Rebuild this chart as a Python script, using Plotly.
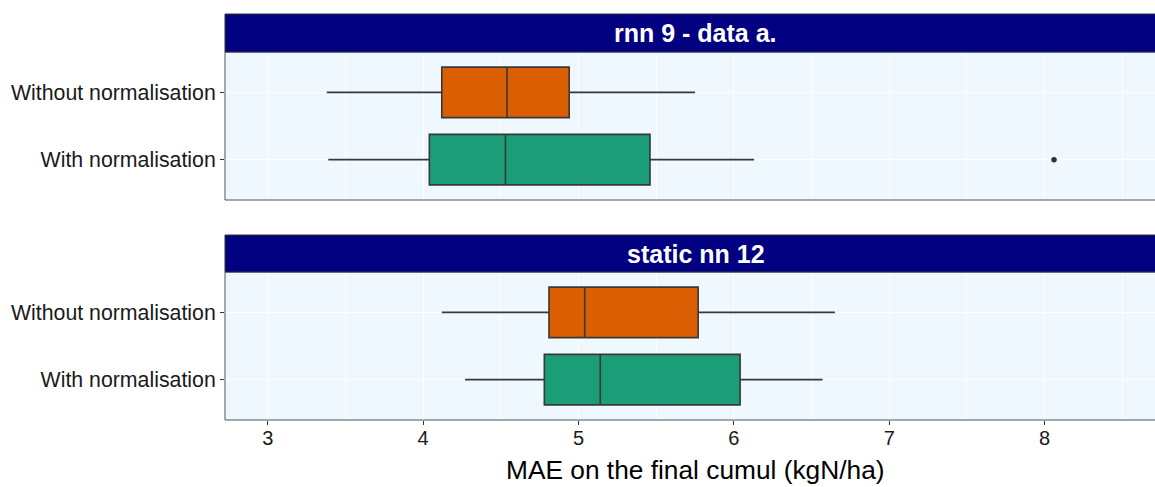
import plotly.graph_objects as go

# Categories and facets
groups = ["Without normalisation", "With normalisation"]
facets = ["rnn 9 - data a.", "static nn 12"]
fill_colors = ["#D95F02", "#1B9E77"]

# Box summary statistics, one value per group (order follows `groups`)
rnn_low = [3.38, 3.39]
rnn_q1 = [4.12, 4.04]
rnn_med = [4.54, 4.53]
rnn_q3 = [4.94, 5.46]
rnn_high = [5.75, 6.13]

nn_low = [4.12, 4.27]
nn_q1 = [4.81, 4.78]
nn_med = [5.04, 5.14]
nn_q3 = [5.77, 6.04]
nn_high = [6.65, 6.57]

# Outlying points: (facet, group, value)
outlier_facet = ["rnn 9 - data a."]
outlier_group = ["With normalisation"]
outlier_value = [8.06]

x_ticks = [3, 4, 5, 6, 7, 8]
x_range = [2.725, 8.71]

W, H = 1155, 487


def py(px):
    """pixel row -> paper y"""
    return (H - px) / H


panel_px = [(52, 200), (272, 420)]
strip_px = [(14, 52), (235, 272)]
text_center_x = 0.506

stats = {
    facets[0]: (rnn_low, rnn_q1, rnn_med, rnn_q3, rnn_high),
    facets[1]: (nn_low, nn_q1, nn_med, nn_q3, nn_high),
}

fig = go.Figure()
for fi, facet in enumerate(facets):
    low, q1, med, q3, high = stats[facet]
    ax = "" if fi == 0 else str(fi + 1)
    for gi, g in enumerate(groups):
        fig.add_trace(go.Box(
            y=[g], q1=[q1[gi]], median=[med[gi]], q3=[q3[gi]],
            lowerfence=[low[gi]], upperfence=[high[gi]],
            orientation="h", width=0.75, whiskerwidth=0,
            fillcolor=fill_colors[gi],
            line=dict(color="#383838", width=1.6),
            boxpoints=False, showlegend=False, hoverinfo="skip",
            xaxis="x" + ax, yaxis="y" + ax,
        ))
    ox = [v for f, v in zip(outlier_facet, outlier_value) if f == facet]
    oy = [g for f, g in zip(outlier_facet, outlier_group) if f == facet]
    if ox:
        fig.add_trace(go.Scatter(
            x=ox, y=oy, mode="markers",
            marker=dict(color="#333333", size=5.5),
            showlegend=False, hoverinfo="skip",
            xaxis="x" + ax, yaxis="y" + ax,
        ))

font_family = "Liberation Sans, Arial, sans-serif"

x_common = dict(
    range=x_range, tickvals=x_ticks, showgrid=True, gridcolor="white",
    gridwidth=1.1, zeroline=False, showline=False,
    minor=dict(dtick=0.5, tick0=2.5, showgrid=True, gridcolor="white", gridwidth=0.5),
    tickfont=dict(size=20, color="#1a1a1a", family=font_family),
)
y_common = dict(
    type="category", categoryorder="array",
    categoryarray=["With normalisation", "Without normalisation"],
    range=[-0.6, 1.6], showgrid=True, gridcolor="white", gridwidth=1.1,
    zeroline=False, showline=False, ticks="outside", ticklen=4,
    tickcolor="#333333", tickfont=dict(size=21.3, color="#1a1a1a", family=font_family),
)

fig.update_layout(
    width=W, height=H,
    margin=dict(l=225, r=0, t=0, b=0),
    paper_bgcolor="white", plot_bgcolor="#F0F8FF",
    boxmode="overlay",
    font=dict(family=font_family),
    xaxis=dict(**x_common, domain=[0, 1], anchor="y", showticklabels=False, ticks=""),
    yaxis=dict(**y_common, domain=[py(panel_px[0][1]), py(panel_px[0][0])], anchor="x"),
    xaxis2=dict(**x_common, domain=[0, 1], anchor="y2", matches="x",
                ticks="outside", ticklen=4, tickcolor="#333333",
                ticklabelstandoff=-4),
    yaxis2=dict(**y_common, domain=[py(panel_px[1][1]), py(panel_px[1][0])], anchor="x2"),
)

shapes = []
annotations = []
for fi, facet in enumerate(facets):
    t, b = panel_px[fi]
    shapes.append(dict(type="rect", xref="paper", yref="paper", x0=0, x1=1.01,
                       y0=py(b), y1=py(t), line=dict(color="#555555", width=1),
                       fillcolor="rgba(0,0,0,0)", layer="above"))
    st, sb = strip_px[fi]
    shapes.append(dict(type="rect", xref="paper", yref="paper", x0=0, x1=1.01,
                       y0=py(sb), y1=py(st), line=dict(color="#333333", width=1),
                       fillcolor="#000080", layer="above"))
    annotations.append(dict(text=f"<b>{facet}</b>", xref="paper", yref="paper",
                            x=text_center_x, y=(py(sb) + py(st)) / 2, showarrow=False,
                            font=dict(size=25, color="white", family=font_family),
                            xanchor="center", yanchor="middle"))

annotations.append(dict(text="MAE on the final cumul (kgN/ha)", xref="paper", yref="paper",
                        x=text_center_x, y=py(470), showarrow=False,
                        font=dict(size=26.3, color="black", family=font_family),
                        xanchor="center", yanchor="middle"))

fig.update_layout(shapes=shapes, annotations=annotations)
fig.write_html("out.html")
